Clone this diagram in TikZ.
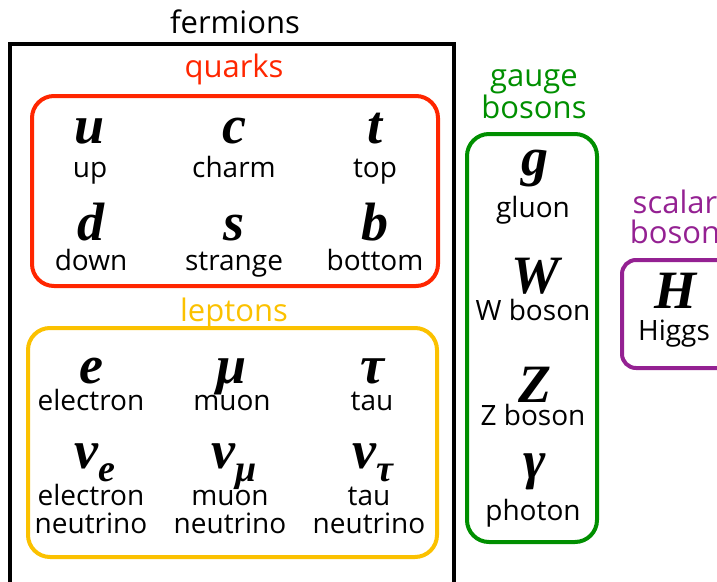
\documentclass[tikz,border=0pt]{standalone}
\usepackage{fontspec}
\setmainfont{Open Sans}
\newfontfamily\symfont{Liberation Serif}
\usetikzlibrary{positioning}
\definecolor{qRed}{HTML}{FF2600}
\definecolor{lYellow}{HTML}{FBC100}
\definecolor{gGreen}{HTML}{008F00}
\definecolor{sPurple}{HTML}{942192}
\tikzset{
  sym/.style={anchor=base, inner sep=0pt, font=\symfont\bfseries\itshape\fontsize{54}{54}\selectfont},
  lbl/.style={anchor=base, inner sep=0pt, align=center, font=\fontsize{28}{28}\selectfont},
  head/.style={anchor=base, inner sep=0pt, align=center, font=\fontsize{31}{30}\selectfont},
  frame/.style={line width=4pt, rounded corners=22pt},
}
\newcommand{\nusub}[1]{ν\raisebox{-13pt}{\fontsize{38}{38}\selectfont #1}}

\begin{document}
\begin{tikzpicture}[x=1pt, y=-1pt]
  \useasboundingbox (0,0) rectangle (717,581);
  \clip (0,0) rectangle (717,581);
  % fermions
  \node[head] (fermions) at (235,33) {fermions};
  \draw[line width=4pt] (10,44) rectangle (454,620);
  \node[head, qRed] (quarks) at (234,77) {quarks};
  \draw[frame, qRed] (32,96) rectangle (438,286);
  \foreach \s/\lab/\x [count=\i] in {u/up/90, c/charm/234, t/top/375} {
    \node[sym] (q\i) at (\x,143) {\s};
    \node[lbl] (q\i-lbl) at (\x,177) {\lab};
  }
  \foreach \s/\lab/\x [count=\i from 4] in {d/down/91, s/strange/234, b/bottom/375} {
    \node[sym] (q\i) at (\x,240) {\s};
    \node[lbl] (q\i-lbl) at (\x,270) {\lab};
  }
  \node[head, lYellow] (leptons) at (234,321) {leptons};
  \draw[frame, lYellow] (28,328) rectangle (437,557);
  \foreach \s/\lab/\x [count=\i] in {e/electron/91, μ/muon/232, τ/tau/372} {
    \node[sym] (l\i) at (\x,383) {\s};
    \node[lbl] (l\i-lbl) at (\x,410) {\lab};
  }
  \foreach \s/\lab/\x [count=\i from 4] in {e/{electron\\neutrino}/91, μ/{muon\\neutrino}/230, τ/{tau\\neutrino}/369} {
    \node[sym] (l\i) at (\x+4,468) {\nusub{\s}};
    \node[lbl] (l\i-lbl) at (\x,533) {\lab};
  }
  % gauge bosons
  \node[head, gGreen] (gauge) at (534,118) {gauge\\bosons};
  \draw[frame, gGreen] (467,134) rectangle (597,542);
  \foreach \s/\lab/\ys/\yl [count=\i] in {g/gluon/175/217, W/W boson/293/320, Z/Z boson/402/425, γ/photon/478/520} {
    \node[sym] (g\i) at (535,\ys) {\s};
    \node[lbl] (g\i-lbl) at (533,\yl) {\lab};
  }
  % scalar boson
  \node[head, sPurple] (scalar) at (675,243) {scalar\\boson};
  \draw[frame, sPurple, rounded corners=14pt] (622,260) rectangle (740,368);
  \node[sym] (h) at (675,308) {H};
  \node[lbl] (h-lbl) at (674,340) {Higgs};
\end{tikzpicture}
\end{document}
